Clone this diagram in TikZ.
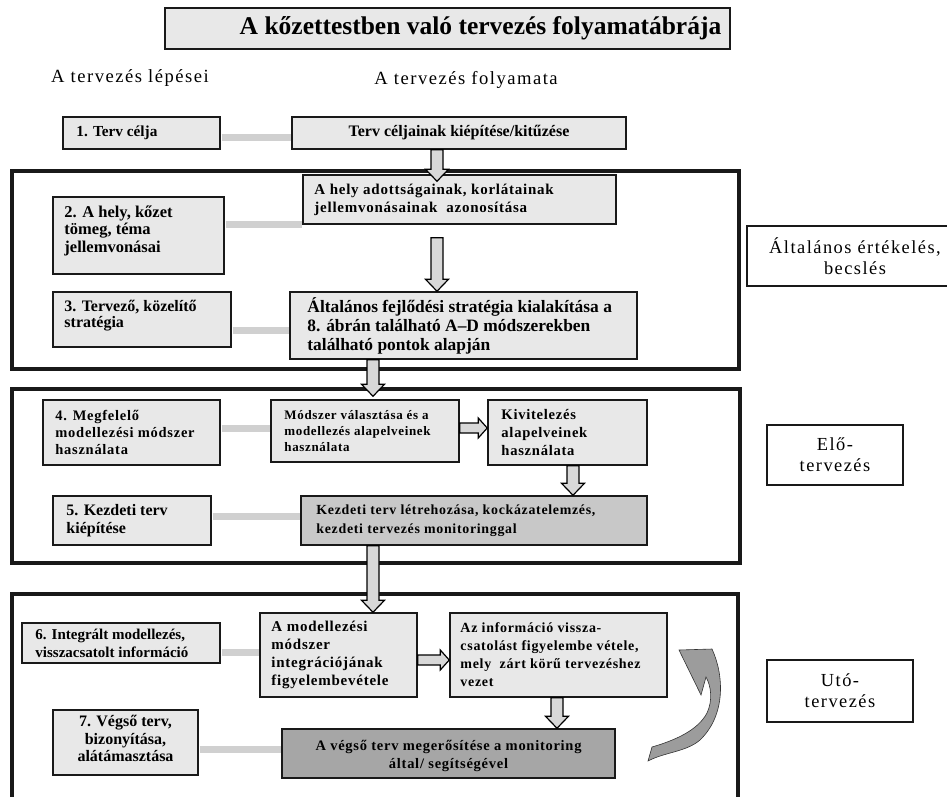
\documentclass[tikz,border=0pt]{standalone}
\usepackage{fontspec}
\setmainfont{Liberation Serif}
\newfontfamily\lsp[LetterSpace=5]{Liberation Serif}
\newfontfamily\lspw[LetterSpace=8]{Liberation Serif}
\usetikzlibrary{calc}
\definecolor{boxfill}{HTML}{E8E8E8}
\definecolor{midfill}{HTML}{C8C8C8}
\definecolor{darkfill}{HTML}{A6A6A6}
\definecolor{connc}{HTML}{D0D0D0}
\definecolor{arrfill}{HTML}{D8D8D8}
\definecolor{curvefill}{HTML}{9C9C9C}
\tikzset{
 box/.style={draw=black!90, line width=1.5pt, fill=boxfill, inner sep=0pt},
 btext/.style={align=left, inner sep=0pt},
 frame/.style={draw=black!90, line width=3.5pt},
 conn/.style={draw=connc, line width=7pt},
 blk/.style={draw=black, line width=1.2pt, fill=arrfill, line join=miter},
 lab/.style={draw=black!90, line width=1.5pt, align=center, font=\lspw\fontsize{18.4}{21}\selectfont},
 head/.style={font=\lspw\fontsize{18.6}{22}\selectfont},
}
% left-aligned box: name, x1, y1, x2, y2, pad, box options, text options, text
\newcommand\bx[9]{%
 \pgfmathsetmacro\bw{#4-#2}\pgfmathsetmacro\bh{#5-#3}\pgfmathsetmacro\bcx{(#2+#4)/2}\pgfmathsetmacro\bcy{(#3+#5)/2}%
 \node[box,#7,minimum width=\bw pt,minimum height=\bh pt] (#1) at (\bcx,\bcy) {};
 \node[btext,#8,anchor=west] (#1t) at ($(#1.west)+(#6,0)$) {#9};}
% centred box: name, x1, y1, x2, y2, box options, text options, text
\newcommand\bxc[8]{%
 \pgfmathsetmacro\bw{#4-#2}\pgfmathsetmacro\bh{#5-#3}\pgfmathsetmacro\bcx{(#2+#4)/2}\pgfmathsetmacro\bcy{(#3+#5)/2}%
 \node[box,#6,minimum width=\bw pt,minimum height=\bh pt] (#1) at (\bcx,\bcy) {};
 \node[btext,#7,align=center] (#1t) at (#1.center) {#8};}
% vertical block arrow: x-line, from, to, start offset, tip offset
\newcommand\vblk[5]{%
 \path ($(#1 |- #2)+(0,#4)$) coordinate (vS) ($(#1 |- #3)+(0,#5)$) coordinate (vT);
 \filldraw[blk] ($(vS)+(-6,0)$) -- ($(vS)+(6,0)$) -- ($(vT)+(6,-12)$) -- ($(vT)+(11.5,-12)$) -- (vT) -- ($(vT)+(-11.5,-12)$) -- ($(vT)+(-6,-12)$) -- cycle;}
% horizontal block arrow: y-line, from, to
\newcommand\hblk[3]{%
 \path (#2 |- #1) coordinate (hS) (#3 |- #1) coordinate (hT);
 \filldraw[blk] ($(hS)+(0,-5)$) -- ($(hT)+(-9,-5)$) -- ($(hT)+(-9,-10)$) -- (hT) -- ($(hT)+(-9,10)$) -- ($(hT)+(-9,5)$) -- ($(hS)+(0,5)$) -- cycle;}
\begin{document}
\begin{tikzpicture}[x=1pt,y=-1pt]
\useasboundingbox (0,0) rectangle (947,796);
\clip (0,0) rectangle (947,796);
% frames
\draw[frame] (12,171) rectangle (739,369);
\draw[frame] (12,389) rectangle (740,563);
\draw[frame] (12,594) rectangle (738,820);
% title and headings
\bxc{title}{165}{8}{730}{49}{}{font=\bfseries\fontsize{25.5}{28}\selectfont,xshift=33pt}{A kőzettestben való tervezés folyamatábrája}
\node[head] (h1) at (130,78) {A tervezés lépései};
\node[head] (h2) at (466,80) {A tervezés folyamata};
% boxes
\bx{b1}{63}{117}{220}{149}{14}{}{font=\bfseries\fontsize{15.3}{18}\selectfont}{1. Terv célja}
\bxc{cel}{292}{117}{626}{149}{}{font=\bfseries\fontsize{16}{18}\selectfont}{Terv céljainak kiépítése/kitűzése}
\bx{hely}{303}{175}{616}{224}{12}{}{font=\lsp\bfseries\fontsize{15}{18}\selectfont}{A hely adottságainak, korlátainak\\jellemvonásainak\ \ azonosítása}
\bx{b2}{53}{197}{224}{274}{12}{}{font=\bfseries\fontsize{16.5}{17.5}\selectfont,yshift=5pt}{2. A hely, kőzet\\tömeg, téma\\jellemvonásai}
\bx{b3}{53}{292}{231}{347}{12}{}{font=\bfseries\fontsize{16}{16.5}\selectfont,yshift=4pt}{3. Tervező, közelítő\\stratégia}
\bx{alt}{290}{292}{637}{359}{18}{}{font=\bfseries\fontsize{17.4}{19}\selectfont}{Általános fejlődési stratégia kialakítása a\\8. ábrán található A–D módszerekben\\található pontok alapján}
\bx{b4}{43}{400}{220}{465}{13}{}{font=\lsp\bfseries\fontsize{14.5}{17}\selectfont}{4. Megfelelő\\modellezési módszer\\használata}
\bx{mod}{271}{400}{459}{462}{14}{}{font=\lsp\bfseries\fontsize{13}{16}\selectfont}{Módszer választása és a\\modellezés alapelveinek\\használata}
\bx{kiv}{488}{400}{647}{465}{14}{}{font=\lsp\bfseries\fontsize{14.6}{18}\selectfont}{Kivitelezés\\alapelveinek\\használata}
\bx{kez}{301}{496}{647}{545}{16}{fill=midfill}{font=\lsp\bfseries\fontsize{13.9}{19}\selectfont}{Kezdeti terv létrehozása, kockázatelemzés,\\kezdeti tervezés monitoringgal}
\bx{b5}{53}{496}{211}{545}{14}{}{font=\bfseries\fontsize{16}{18}\selectfont}{5. Kezdeti terv\\kiépítése}
\bx{b6}{22}{623}{220}{663}{14}{}{font=\bfseries\fontsize{15}{18}\selectfont}{6. Integrált modellezés,\\visszacsatolt információ}
\bx{mi}{260}{613}{417}{697}{12}{}{font=\lsp\bfseries\fontsize{15}{18}\selectfont}{A modellezési\\módszer\\integrációjának\\figyelembevétele}
\bx{info}{450}{613}{667}{697}{11}{}{font=\lsp\bfseries\fontsize{14}{18}\selectfont}{Az információ vissza-\\csatolást figyelembe vétele,\\mely\ \ zárt körű tervezéshez\\vezet}
\bxc{b7}{53}{710}{198}{775}{}{font=\bfseries\fontsize{16}{17.5}\selectfont,yshift=4pt}{7. Végső terv,\\bizonyítása,\\alátámasztása}
\bxc{veg}{282}{729}{615}{778}{fill=darkfill}{font=\lsp\bfseries\fontsize{14.5}{18}\selectfont,yshift=-2pt}{A végső terv megerősítése a monitoring\\által/ segítségével}
% connectors (grey bars)
\coordinate (c1) at ($(b1.east)+(0,4)$);
\coordinate (c2) at ($(b2.east)+(0,-11.5)$);
\coordinate (c3) at ($(b3.east)+(0,10.5)$);
\coordinate (c4) at ($(b4.east)+(0,-4.5)$);
\coordinate (c5) at ($(b5.east)+(0,-4.5)$);
\coordinate (c6) at ($(b6.east)+(0,9)$);
\coordinate (c7) at ($(b7.east)+(0,6.5)$);
\draw[conn] ([xshift=0.75pt]c1) -- ([xshift=-0.75pt]c1 -| cel.west);
\draw[conn] ([xshift=0.75pt]c2) -- ([xshift=-0.75pt]c2 -| hely.west);
\draw[conn] ([xshift=0.75pt]c3) -- ([xshift=-0.75pt]c3 -| alt.west);
\draw[conn] ([xshift=0.75pt]c4) -- ([xshift=-0.75pt]c4 -| mod.west);
\draw[conn] ([xshift=0.75pt]c5) -- ([xshift=-0.75pt]c5 -| kez.west);
\draw[conn] ([xshift=0.75pt]c6) -- ([xshift=-0.75pt]c6 -| mi.west);
\draw[conn] ([xshift=0.75pt]c7) -- ([xshift=-0.75pt]c7 -| veg.west);
% block arrows
\coordinate (xa) at (437,0);
\coordinate (xb) at (373,0);
\coordinate (xc) at (573,0);
\coordinate (xd) at (557,0);
\coordinate (ya) at (0,428);
\coordinate (yb) at (0,660);
\vblk{xa}{cel.south}{hely.north}{0}{7}
\vblk{xa}{hely.south}{alt.north}{13}{0}
\vblk{xb}{alt.south}{mod.north}{0}{-3}
\hblk{ya}{mod.east}{kiv.west}
\vblk{xc}{kiv.south}{kez.north}{0}{0}
\vblk{xb}{kez.south}{mi.north}{0}{0}
\hblk{yb}{mi.east}{info.west}
\vblk{xd}{info.south}{veg.north}{0}{0}
% curved feedback arrow
\filldraw[draw=black!80, line width=0.6pt, fill=curvefill] (679,650) -- (712,649) .. controls (724,675) and (726,715) .. (700,740) .. controls (686,752) and (665,752) .. (648,761) -- (652,747) .. controls (676,740) and (698,730) .. (707,713) .. controls (713,700) and (711,686) .. (706,677) -- (701,695) -- cycle;
% phase labels
\node[lab, minimum width=216pt, minimum height=60pt] (l1) at (855,256) {Általános értékelés,\\becslés};
\node[lab, minimum width=136pt, minimum height=60pt] (l2) at (835,455) {Elő-\\tervezés};
\node[lab, minimum width=146pt, minimum height=62pt] (l3) at (840,691) {Utó-\\tervezés};
\end{tikzpicture}
\end{document}
